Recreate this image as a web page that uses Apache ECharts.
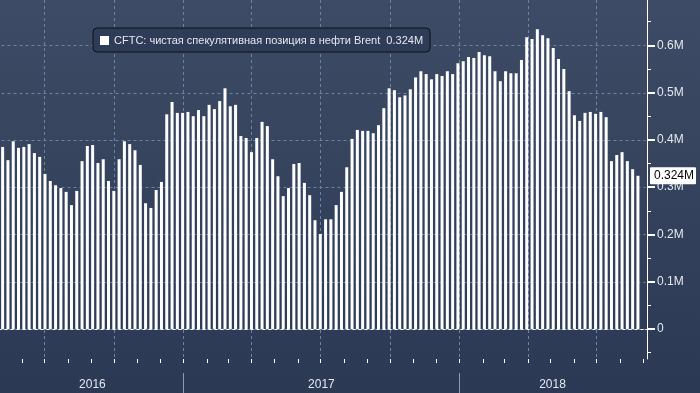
<!DOCTYPE html>
<html><head><meta charset="utf-8">
<script src="https://cdn.jsdelivr.net/npm/echarts@6/dist/echarts.min.js"></script>
<style>
html,body{margin:0;padding:0;width:700px;height:393px;overflow:hidden;
background:linear-gradient(to bottom,#3e4b66 0%,#37455f 35%,#303e5a 70%,#2c3955 100%);}
#c{width:700px;height:393px;}
</style></head><body><div id="c"></div>
<script>
// ---- data ----
const seriesName = 'CFTC: чистая спекулятивная позиция в нефти Brent';
const firstWeek = '2016-05-07';           // first weekly observation
const netPositionM = [                    // net speculative position, millions of contracts
  0.385,0.357,0.397,0.383,0.385,0.391,0.372,0.364,0.328,0.313,
  0.304,0.298,0.290,0.262,0.292,0.355,0.387,0.389,0.351,0.359,
  0.313,0.292,0.359,0.397,0.391,0.378,0.347,0.266,0.256,0.294,
  0.311,0.454,0.480,0.457,0.457,0.459,0.450,0.463,0.450,0.474,
  0.465,0.482,0.509,0.471,0.474,0.408,0.404,0.374,0.404,0.438,
  0.429,0.359,0.323,0.281,0.298,0.349,0.351,0.309,0.283,0.230,
  0.201,0.232,0.232,0.262,0.290,0.342,0.402,0.421,0.419,0.419,
  0.414,0.431,0.467,0.509,0.505,0.490,0.494,0.507,0.532,0.545,
  0.539,0.528,0.539,0.535,0.545,0.539,0.562,0.566,0.575,0.573,
  0.586,0.579,0.577,0.545,0.524,0.545,0.541,0.541,0.569,0.617,
  0.613,0.634,0.621,0.615,0.594,0.571,0.550,0.503,0.452,0.440,
  0.457,0.459,0.455,0.459,0.448,0.355,0.368,0.374,0.355,0.338,
  0.324
];
const yearLabels = ['2016','2017','2018'];
const yTickValues = [0,0.1,0.2,0.3,0.4,0.5,0.6];
const yMinorValues = [-0.05,0.05,0.15,0.25,0.35,0.45,0.55,0.65];
const axisStart = '2016-05-05T12:00:00Z';
const axisEnd = '2018-09-04T00:00:00Z';
const yMinM = -0.0634, yMaxM = 0.6957;

// ---- build ----
const DAY = 86400000;
const tMin = Date.parse(axisStart), tMax = Date.parse(axisEnd);
const t0 = Date.parse(firstWeek + 'T00:00:00Z');
const weekDates = netPositionM.map((_, i) => t0 + i * 7 * DAY);
const barData = netPositionM.map((v, i) => [weekDates[i], v]);
const lastVal = netPositionM[netPositionM.length - 1];
const lastLabel = lastVal.toFixed(3) + 'M';
const fmtM = v => (Math.abs(v) < 1e-9 ? '0' : v.toFixed(1) + 'M');

const monthStarts = [];
for (let y = 2016; y <= 2018; y++) for (let m = 0; m < 12; m++) {
  const t = Date.UTC(y, m, 1);
  if (t > tMin && t < tMax) monthStarts.push([t, yMinM, m % 3 === 0 ? 1 : 0]);
}
const yearData = yearLabels.map(l => [Date.UTC(+l, 0, 1), yMinM, Date.UTC(+l + 1, 0, 1)]);
const hGridData = yTickValues.map(v => [tMin, v]);

const gridColor = '#6985a2';
const textColor = '#e4e8ef';
const FONT = '"Liberation Sans", Arial, sans-serif';

const chart = echarts.init(document.getElementById('c'), null, {renderer: 'canvas'});
chart.setOption({
  animation: false,
  backgroundColor: 'transparent',
  useUTC: true,
  textStyle: {fontFamily: FONT},
  grid: {left: 0, right: 53, top: 0, bottom: 34, containLabel: false, outerBoundsMode: 'none'},
  legend: {
    data: [seriesName],
    left: 93, top: 28,
    padding: [7, 7, 6, 7],
    itemWidth: 9, itemHeight: 9, icon: 'rect',
    backgroundColor: '#2f3c57', borderColor: '#0c1019', borderWidth: 1, borderRadius: 4,
    textStyle: {color: textColor, fontSize: 11, fontFamily: FONT},
    formatter: n => n + '  ' + lastLabel
  },
  xAxis: {
    type: 'time', min: tMin, max: tMax,
    axisLine: {show: true, lineStyle: {color: '#ffffff', width: 1}},
    axisTick: {show: false}, axisLabel: {show: false}, splitLine: {show: false}
  },
  yAxis: [
    {
      type: 'value', position: 'right', min: yMinM, max: yMaxM, splitNumber: 7,
      axisLine: {show: true, lineStyle: {color: '#ffffff', width: 1}},
      axisTick: {show: true, length: 8, customValues: yTickValues, lineStyle: {color: '#ffffff', width: 2}},
      axisLabel: {show: true, customValues: yTickValues, margin: 10, color: textColor, fontSize: 12, fontFamily: FONT, formatter: fmtM},
      splitLine: {show: false}
    },
    {
      type: 'value', position: 'right', min: yMinM, max: yMaxM,
      axisLine: {show: false},
      axisTick: {show: true, length: 4, customValues: yMinorValues, lineStyle: {color: '#ffffff', width: 1}},
      axisLabel: {show: false}, splitLine: {show: false}
    },
    {
      type: 'value', position: 'right', min: yMinM, max: yMaxM,
      axisLine: {show: false}, axisTick: {show: false}, splitLine: {show: false},
      axisLabel: {
        show: true, customValues: [lastVal], margin: 3,
        formatter: v => v.toFixed(3) + 'M',
        color: '#000000', fontSize: 12, fontFamily: FONT,
        backgroundColor: '#ffffff', padding: [3, 2, 2, 4], borderRadius: 1
      }
    }
  ],
  series: [
    {
      type: 'custom', name: 'hgrid', z: 1, clip: false, silent: true,
      encode: {x: 0, y: 1}, data: hGridData,
      renderItem: (params, api) => {
        const v = api.value(1);
        const p0 = api.coord([tMin, v]), p1 = api.coord([tMax, v]);
        const y = Math.round(p0[1]) + 0.5;
        return {type: 'line', shape: {x1: p0[0], y1: y, x2: p1[0], y2: y},
          style: {stroke: gridColor, lineWidth: 1, lineDash: [3, 3]}};
      }
    },
    {
      type: 'custom', name: 'months', z: 1, clip: false, silent: true,
      encode: {x: 0, y: 1}, data: monthStarts,
      renderItem: (params, api) => {
        const t = api.value(0);
        const pb = api.coord([t, yMinM]);
        const pt = api.coord([t, yMaxM]);
        const x = Math.round(pb[0]) + 0.5;
        const ch = [{type: 'line', shape: {x1: x, y1: pb[1], x2: x, y2: pb[1] + 4},
          style: {stroke: '#ffffff', lineWidth: 1}}];
        if (api.value(2)) ch.push({type: 'line', shape: {x1: x, y1: pt[1], x2: x, y2: pb[1]},
          style: {stroke: gridColor, lineWidth: 1, lineDash: [3, 3]}});
        return {type: 'group', children: ch};
      }
    },
    {
      type: 'custom', name: 'years', z: 3, clip: false, silent: true,
      encode: {x: 0, y: 1}, data: yearData,
      renderItem: (params, api) => {
        const s = Math.max(api.value(0), tMin), e = Math.min(api.value(2), tMax);
        const ps = api.coord([s, yMinM]), pe = api.coord([e, yMinM]);
        const ch = [{type: 'text', x: (ps[0] + pe[0]) / 2, y: ps[1] + 26,
          style: {text: yearLabels[params.dataIndex], fill: textColor, font: '12px ' + FONT,
            align: 'center', verticalAlign: 'middle'}}];
        if (api.value(0) > tMin) {
          const x = Math.round(ps[0]) + 0.5;
          ch.push({type: 'line', shape: {x1: x, y1: ps[1] + 14, x2: x, y2: ps[1] + 34},
            style: {stroke: '#9098aa', lineWidth: 1}});
        }
        return {type: 'group', children: ch};
      }
    },
    {
      type: 'bar', name: seriesName, z: 2,
      data: barData, barWidth: 3,
      itemStyle: {color: '#ffffff'}
    }
  ]
});
</script></body></html>
